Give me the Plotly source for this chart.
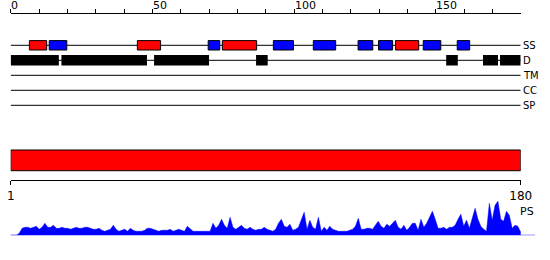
import plotly.graph_objects as go

# ---------------- data ----------------
seq_len = 180
top_ticks = list(range(0, 180, 10))
top_labels = [0, 50, 100, 150]
bottom_ticks = [1, 180]

track_names = ["SS", "D", "TM", "CC", "SP"]

ss_start = [6.6, 13.6, 44.7, 69.7, 74.7, 92.7, 106.8, 122.6, 129.8, 135.8, 145.6, 157.6]
ss_end = [12.7, 19.8, 52.9, 73.8, 86.8, 99.8, 114.7, 127.8, 134.8, 144.0, 151.8, 162.0]
ss_type = ["H", "E", "H", "E", "H", "E", "E", "E", "E", "H", "E", "E"]

dis_start = [0.0, 17.9, 50.6, 86.6, 153.7, 166.7, 172.7]
dis_end = [17.0, 48.1, 70.0, 90.7, 157.8, 172.0, 180.0]

domain_start = [1]
domain_end = [180]

ps_values = [
    0, 0, 0, 2, 7, 8, 8, 7, 8, 9,
    6, 8, 12, 8, 8, 10, 7, 7, 8, 7,
    7, 6, 7, 8, 7, 7, 8, 8, 7, 6,
    6, 7, 5, 4, 5, 6, 10, 6, 4, 5,
    6, 4, 7, 5, 4, 4, 4, 5, 7, 7,
    6, 5, 4, 5, 5, 5, 6, 4, 5, 6,
    5, 4, 9, 6, 4, 4, 4, 4, 4, 4,
    4, 12, 7, 10, 16, 10, 7, 18, 8, 6,
    8, 10, 7, 6, 8, 6, 5, 6, 6, 8,
    6, 5, 4, 6, 12, 16, 9, 8, 11, 5,
    6, 8, 16, 23, 6, 15, 8, 6, 18, 4,
    8, 5, 9, 6, 5, 4, 4, 4, 4, 5,
    6, 9, 17, 6, 6, 7, 7, 6, 10, 14,
    9, 7, 11, 9, 12, 15, 8, 6, 10, 5,
    8, 12, 12, 5, 16, 8, 12, 18, 24, 16,
    7, 7, 8, 6, 8, 8, 10, 16, 21, 9,
    15, 7, 18, 27, 16, 9, 6, 4, 32, 15,
    30, 34, 16, 14, 24, 20, 7, 10, 9, 3,
]
residues = list(range(1, len(ps_values) + 1))

# ---------------- layout constants (pixels) ----------------
W, H = 550, 260
X0, X1 = 10.7, 520.7
PS_X1 = 535.0
TOP_AXIS_Y = 14.3
BOT_AXIS_Y = 180.3
row_y = [45.3, 60.3, 75.3, 90.3, 105.3]
FONT = "DejaVu Sans"
colors = {"H": "#ff0000", "E": "#0000ff"}

fig = go.Figure()

# track baselines
for name, y in zip(track_names, row_y):
    fig.add_trace(go.Scatter(x=[0, seq_len], y=[y, y], mode="lines",
                             line=dict(color="black", width=1),
                             xaxis="x", yaxis="y", hoverinfo="skip", showlegend=False))

shapes = []
ss_y = row_y[0]
for s, e, t in zip(ss_start, ss_end, ss_type):
    shapes.append(dict(type="rect", xref="x", yref="y", x0=s, x1=e,
                       y0=ss_y - 4.7, y1=ss_y + 4.7, fillcolor=colors[t],
                       line=dict(color="black", width=1), layer="above"))
d_y = row_y[1]
for s, e in zip(dis_start, dis_end):
    shapes.append(dict(type="rect", xref="x", yref="y", x0=s, x1=e,
                       y0=d_y - 5.3, y1=d_y + 5.3, fillcolor="black",
                       line=dict(color="black", width=0), layer="above"))

# domain bar
for s, e in zip(domain_start, domain_end):
    fig.add_trace(go.Scatter(x=[s, e, e, s, s], y=[150, 150, 170.7, 170.7, 150],
                             mode="lines", fill="toself", fillcolor="#ff0000",
                             line=dict(color="black", width=1),
                             xaxis="x2", yaxis="y2", hoverinfo="skip", showlegend=False))

# PS profile
fig.add_trace(go.Scatter(x=residues, y=ps_values, mode="lines", fill="tozeroy",
                         fillcolor="#0000ff", line=dict(color="#0000ff", width=0.5),
                         xaxis="x3", yaxis="y3", hoverinfo="skip", showlegend=False))
shapes.append(dict(type="line", xref="x3 domain", yref="y3", x0=0, x1=1, y0=0, y1=0,
                   line=dict(color="#0000ff", width=1)))

annotations = []
for t in top_labels:
    annotations.append(dict(text=str(t), xref="x", yref="paper", x=t, y=1 - 5.5 / H,
                            xanchor="left", yanchor="middle", xshift=-0.5, showarrow=False,
                            borderpad=0,
                            font=dict(family=FONT, size=11, color="black")))
for name, y in zip(track_names, row_y):
    annotations.append(dict(text=name, xref="paper", yref="y", x=(X1 + 0.5) / W, y=y,
                            xanchor="left", yanchor="middle", showarrow=False,
                            font=dict(family=FONT, size=10, color="black")))
annotations.append(dict(text="PS", xref="paper", yref="paper", x=527 / W, y=(H - 211) / H,
                        xanchor="center", yanchor="middle", showarrow=False,
                        font=dict(family=FONT, size=11, color="black")))

ps_range_end = 1 + (PS_X1 - X0) / ((X1 - X0) / (seq_len - 1))

fig.update_layout(
    width=W, height=H, margin=dict(l=0, r=0, t=0, b=0, autoexpand=False),
    paper_bgcolor="white", plot_bgcolor="rgba(0,0,0,0)",
    shapes=shapes, annotations=annotations, showlegend=False,
    xaxis=dict(domain=[X0 / W, X1 / W], range=[0, seq_len], anchor="y",
               side="top", showline=True, linecolor="black",
               linewidth=1, ticks="outside", ticklen=4, tickcolor="black", tickwidth=1,
               tickvals=top_ticks, showticklabels=False, automargin=False,
               showgrid=False, zeroline=False, fixedrange=True),
    yaxis=dict(domain=[0, 1 - TOP_AXIS_Y / H], range=[H, TOP_AXIS_Y], visible=False,
               anchor="x", fixedrange=True),
    xaxis2=dict(domain=[X0 / W, X1 / W], range=[1, seq_len], anchor="y2",
                side="bottom", showline=True, linecolor="black",
                linewidth=1, ticks="outside", ticklen=4, tickcolor="black", tickwidth=1,
                tickvals=bottom_ticks, ticktext=[str(t) for t in bottom_ticks],
                tickfont=dict(family=FONT, size=12, color="black"), automargin=False,
                showgrid=False, zeroline=False, fixedrange=True),
    yaxis2=dict(domain=[1 - BOT_AXIS_Y / H, 1], range=[BOT_AXIS_Y, 0], visible=False,
                anchor="x2", fixedrange=True),
    xaxis3=dict(domain=[X0 / W, PS_X1 / W], range=[1, ps_range_end], visible=False,
                anchor="y3", fixedrange=True),
    yaxis3=dict(domain=[(H - 235.3) / H, (H - 195.3) / H], range=[0, 40], visible=False,
                anchor="x3", fixedrange=True),
)

fig.write_html("out.html")
